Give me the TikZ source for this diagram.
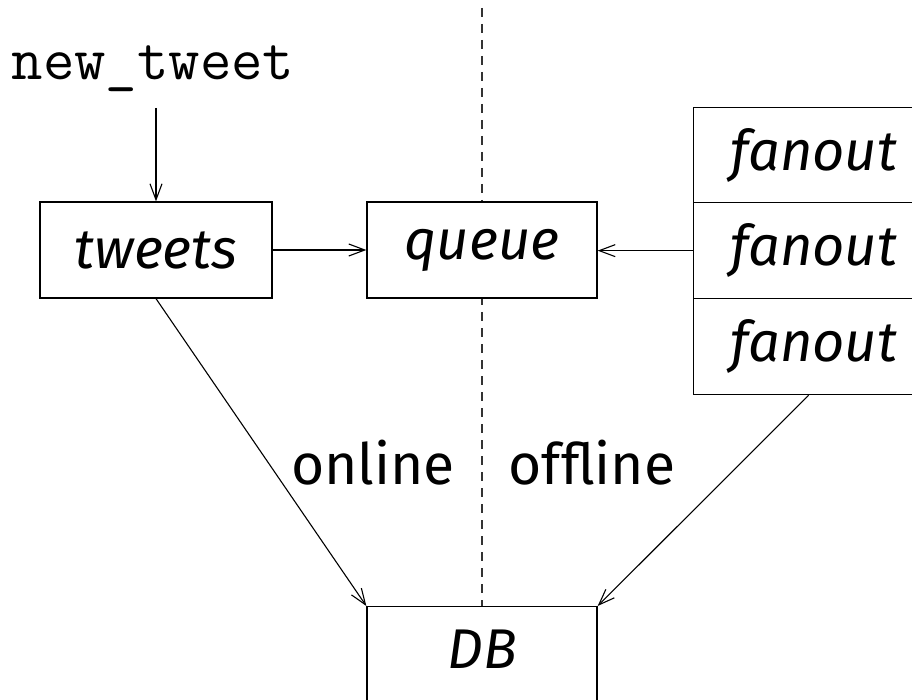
\documentclass[tikz,border=0pt]{standalone}
\usepackage{fontspec}
\setmainfont{Fira Sans}
\usetikzlibrary{arrows.meta}
\begin{document}
\begin{tikzpicture}[x=1pt,y=-1pt,
  stage/.style={draw,fill=white,line width=1.3pt,inner sep=0pt,font=\fontsize{56}{60}\selectfont\itshape},
  flow/.style={line width=1.1pt,-{Straight Barb[length=16pt,width=12pt,line width=1.1pt]}},
  divider/.style={line width=1.3pt,dash pattern=on 9pt off 7pt,draw=black!80},
  side/.style={font=\fontsize{57}{60}\selectfont}]
\useasboundingbox (0,0) rectangle (912,700);
\clip (0,0) rectangle (912,700);

% online / offline boundary
\coordinate (top) at (482,8);
\coordinate (bottom) at (482,606);
\draw[divider] (top) -- (bottom);

% entry point
\node[font=\ttfamily\fontsize{61}{64}\selectfont,inner sep=0pt] (nt) at (153,69) {new\_tweet};
\coordinate (src) at (156,108);

% stages
\node[stage,minimum width=232pt,minimum height=96pt] (tweets) at (156,250) {tweets};
\node[stage,minimum width=230pt,minimum height=96pt] (queue) at (482,250) {queue};
\node[stage,minimum width=240pt,minimum height=96pt,anchor=north west] (f1) at (693,107) {fanout};
\node[stage,minimum width=240pt,minimum height=96pt,anchor=north west] (f2) at (693,202) {fanout};
\node[stage,minimum width=240pt,minimum height=96pt,anchor=north west] (f3) at (693,298) {fanout};
\node[stage,minimum width=230pt,minimum height=130pt,text depth=44pt,anchor=north] (db) at (482,606) {DB};

% connectors
\draw[flow] (src) -- (tweets.north);
\draw[flow] (tweets.east) -- (queue.west);
\draw[flow] (f2.west) -- (f2.west -| queue.east);
\draw[flow] (tweets.south) -- (db.north west);
\draw[flow] ([xshift=-5pt]f3.south) -- (db.north east);

% region labels
\node[side] (on) at (373,463) {online};
\node[side] (off) at (592,463) {offline};
\end{tikzpicture}
\end{document}
